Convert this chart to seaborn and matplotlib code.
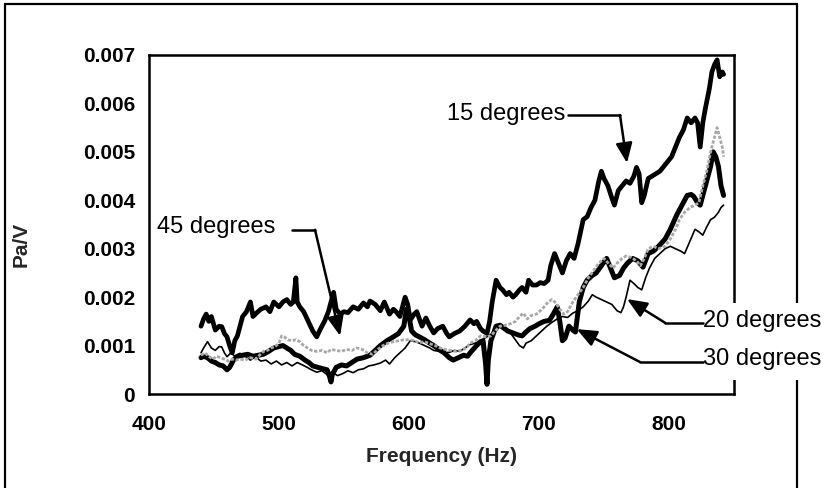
import matplotlib
matplotlib.use("Agg")
import matplotlib.pyplot as plt
from matplotlib.lines import Line2D
from matplotlib.patches import Rectangle
import seaborn as sns
import pandas as pd

# ---------------- data ----------------
f15 = [440,442,444,446,448,451,454,456,458,460,462,464,466,468,470,472,475,478,480,483,486,490,493,496,500,503,506,509,511,513,514,516,519,522,526,529,532,535,538,540,542,544,547,550,553,557,561,565,568,570,574,578,581,585,588,590,593,597,599,601,604,606,610,613,616,619,622,626,629,631,635,639,643,647,650,652,655,657,660,662,664,667,670,672,675,677,680,682,685,687,690,692,695,698,701,704,707,709,712,715,718,721,724,727,730,734,737,740,743,746,748,750,753,756,758,761,764,767,770,773,775,777,779,781,784,787,790,793,796,799,802,805,808,811,814,817,820,822,824,826,828,831,833,835,837,839,841,842]
v15 = [0.00140,0.00155,0.00165,0.00150,0.00160,0.00132,0.00140,0.00139,0.00125,0.00118,0.00100,0.00085,0.00110,0.00120,0.00140,0.00160,0.00170,0.00190,0.00160,0.00168,0.00175,0.00180,0.00170,0.00190,0.00180,0.00190,0.00195,0.00185,0.00190,0.00240,0.00190,0.00180,0.00170,0.00153,0.00130,0.00118,0.00135,0.00150,0.00170,0.00190,0.00210,0.00175,0.00165,0.00170,0.00168,0.00180,0.00175,0.00188,0.00180,0.00192,0.00185,0.00172,0.00190,0.00165,0.00175,0.00170,0.00160,0.00200,0.00185,0.00153,0.00165,0.00170,0.00140,0.00157,0.00140,0.00126,0.00135,0.00140,0.00125,0.00118,0.00125,0.00130,0.00140,0.00153,0.00145,0.00150,0.00135,0.00130,0.00125,0.00150,0.00190,0.00235,0.00220,0.00215,0.00205,0.00210,0.00200,0.00205,0.00215,0.00220,0.00210,0.00235,0.00225,0.00225,0.00230,0.00228,0.00235,0.00265,0.00290,0.00270,0.00250,0.00275,0.00290,0.00280,0.00310,0.00360,0.00366,0.00385,0.00400,0.00440,0.00460,0.00445,0.00430,0.00405,0.00390,0.00420,0.00430,0.00440,0.00435,0.00450,0.00468,0.00455,0.00395,0.00410,0.00445,0.00450,0.00455,0.00460,0.00470,0.00480,0.00490,0.00510,0.00530,0.00545,0.00570,0.00560,0.00570,0.00560,0.00510,0.00560,0.00590,0.00630,0.00665,0.00680,0.00690,0.00655,0.00665,0.00660]

f30 = [440,442,445,448,451,454,457,460,462,465,468,472,476,480,484,488,492,496,500,503,506,509,512,516,520,523,526,530,534,537,539,540,541,544,548,552,556,560,565,570,574,578,583,588,592,596,598,600,602,605,608,612,616,619,623,627,631,634,638,642,645,648,652,655,657,659,660,661,663,665,667,670,672,676,680,684,687,690,693,697,700,704,708,711,714,716,718,720,723,726,728,731,734,737,741,744,748,752,755,758,762,765,768,772,776,780,784,788,792,797,801,806,810,814,817,819,822,824,827,829,832,834,836,838,840,842]
v30 = [0.00075,0.00078,0.00075,0.00068,0.00065,0.00060,0.00058,0.00050,0.00055,0.00070,0.00078,0.00080,0.00082,0.00078,0.00080,0.00082,0.00088,0.00095,0.00098,0.00100,0.00095,0.00090,0.00082,0.00078,0.00070,0.00065,0.00058,0.00055,0.00052,0.00050,0.00035,0.00025,0.00040,0.00055,0.00060,0.00058,0.00065,0.00072,0.00075,0.00080,0.00090,0.00100,0.00110,0.00118,0.00125,0.00140,0.00175,0.00160,0.00130,0.00122,0.00118,0.00112,0.00105,0.00100,0.00092,0.00085,0.00075,0.00070,0.00075,0.00080,0.00078,0.00088,0.00100,0.00108,0.00110,0.00060,0.00020,0.00070,0.00110,0.00125,0.00140,0.00142,0.00138,0.00130,0.00126,0.00122,0.00120,0.00128,0.00135,0.00140,0.00145,0.00150,0.00152,0.00165,0.00180,0.00150,0.00110,0.00115,0.00140,0.00132,0.00128,0.00190,0.00220,0.00235,0.00245,0.00250,0.00265,0.00280,0.00260,0.00240,0.00245,0.00260,0.00270,0.00280,0.00275,0.00262,0.00290,0.00295,0.00305,0.00320,0.00340,0.00370,0.00390,0.00410,0.00412,0.00408,0.00395,0.00390,0.00420,0.00440,0.00470,0.00500,0.00490,0.00470,0.00430,0.00410]

f20 = [440,442,445,448,451,454,456,458,460,463,466,470,474,478,482,486,490,494,498,502,506,510,514,518,521,525,529,533,537,541,545,549,553,557,561,565,569,573,578,582,585,589,593,597,601,605,608,612,616,619,623,627,631,635,639,643,647,651,655,660,664,667,670,674,677,681,685,688,690,694,698,702,706,710,714,718,722,726,730,734,738,741,744,748,752,756,760,763,765,767,770,773,776,779,782,785,789,793,797,801,805,809,812,816,820,823,826,829,832,835,838,840,842]
v20 = [0.00085,0.00095,0.00108,0.00095,0.00090,0.00098,0.00097,0.00085,0.00077,0.00085,0.00078,0.00084,0.00078,0.00070,0.00077,0.00068,0.00070,0.00062,0.00068,0.00060,0.00065,0.00058,0.00065,0.00060,0.00056,0.00050,0.00045,0.00048,0.00040,0.00045,0.00038,0.00042,0.00048,0.00044,0.00050,0.00052,0.00058,0.00060,0.00064,0.00070,0.00062,0.00075,0.00085,0.00095,0.00110,0.00108,0.00105,0.00100,0.00095,0.00090,0.00088,0.00085,0.00086,0.00090,0.00088,0.00095,0.00102,0.00105,0.00110,0.00118,0.00125,0.00130,0.00140,0.00135,0.00130,0.00115,0.00100,0.00095,0.00105,0.00110,0.00120,0.00130,0.00140,0.00148,0.00155,0.00160,0.00158,0.00167,0.00172,0.00180,0.00192,0.00205,0.00200,0.00195,0.00190,0.00185,0.00172,0.00168,0.00180,0.00200,0.00235,0.00228,0.00220,0.00215,0.00240,0.00260,0.00280,0.00290,0.00300,0.00305,0.00300,0.00295,0.00290,0.00315,0.00340,0.00335,0.00328,0.00345,0.00360,0.00365,0.00375,0.00385,0.00390]

f45 = [440,443,446,449,452,455,458,461,464,467,470,474,478,482,485,488,491,494,497,500,502,504,507,510,513,516,519,522,525,529,533,537,540,544,548,552,556,560,564,568,572,576,580,584,588,592,596,600,604,608,612,616,620,624,628,632,636,640,644,647,651,655,659,663,667,670,674,678,682,685,688,691,694,698,701,704,707,710,713,716,719,722,726,730,734,738,742,746,750,754,757,760,764,767,771,775,778,781,784,788,792,797,801,805,808,812,816,820,823,826,829,832,835,837,839,841,842]
v45 = [0.00080,0.00085,0.00078,0.00072,0.00078,0.00075,0.00072,0.00068,0.00072,0.00070,0.00072,0.00070,0.00075,0.00072,0.00080,0.00088,0.00090,0.00095,0.00098,0.00105,0.00120,0.00118,0.00112,0.00110,0.00112,0.00108,0.00100,0.00095,0.00090,0.00088,0.00090,0.00085,0.00092,0.00090,0.00088,0.00092,0.00090,0.00095,0.00092,0.00085,0.00082,0.00092,0.00100,0.00105,0.00108,0.00110,0.00112,0.00112,0.00110,0.00106,0.00108,0.00104,0.00100,0.00095,0.00092,0.00090,0.00088,0.00090,0.00095,0.00105,0.00110,0.00120,0.00118,0.00120,0.00132,0.00140,0.00142,0.00145,0.00150,0.00160,0.00167,0.00155,0.00162,0.00165,0.00172,0.00180,0.00190,0.00195,0.00188,0.00175,0.00165,0.00170,0.00190,0.00205,0.00220,0.00240,0.00255,0.00270,0.00280,0.00268,0.00260,0.00270,0.00280,0.00285,0.00282,0.00275,0.00265,0.00280,0.00300,0.00305,0.00300,0.00305,0.00320,0.00340,0.00360,0.00375,0.00385,0.00390,0.00395,0.00430,0.00460,0.00500,0.00530,0.00550,0.00530,0.00510,0.00490]

labels = ["15 degrees", "20 degrees", "30 degrees", "45 degrees"]
x_ticks = [400, 500, 600, 700, 800]
y_ticks = [0, 0.001, 0.002, 0.003, 0.004, 0.005, 0.006, 0.007]
y_tick_labels = ["0", "0.001", "0.002", "0.003", "0.004", "0.005", "0.006", "0.007"]

# ---------------- style ----------------
sns.set_style("white")
plt.rcParams["font.family"] = ["Liberation Sans", "DejaVu Sans"]

W, H = 829, 488
fig = plt.figure(figsize=(W / 100, H / 100), dpi=100)
fig.patch.set_facecolor("white")
ax = fig.add_axes([149 / W, 1 - 394 / H, 585 / W, 339 / H])

def frame(f, v, name):
    return pd.DataFrame({"Frequency": f, "PaV": v, "Angle": name})

d15 = frame(f15, v15, labels[0])
d20 = frame(f20, v20, labels[1])
d30 = frame(f30, v30, labels[2])
d45 = frame(f45, v45, labels[3])

sns.lineplot(data=d20, x="Frequency", y="PaV", ax=ax, color="black", lw=1.2,
             estimator=None, sort=False, zorder=3)
sns.lineplot(data=d30, x="Frequency", y="PaV", ax=ax, color="black", lw=3.6,
             estimator=None, sort=False, zorder=3)
sns.lineplot(data=d15, x="Frequency", y="PaV", ax=ax, color="black", lw=3.4,
             estimator=None, sort=False, zorder=3)
sns.lineplot(data=d45, x="Frequency", y="PaV", ax=ax, color="#a8a8a8", lw=2.0,
             estimator=None, sort=False, zorder=4, linestyle=(0, (1.2, 0.6)))

ax.set_xlim(400, 850)
ax.set_ylim(0, 0.007)
ax.set_xticks(x_ticks)
ax.set_xticklabels([str(t) for t in x_ticks])
ax.set_yticks(y_ticks)
ax.set_yticklabels(y_tick_labels)
for s in ax.spines.values():
    s.set_visible(True)
    s.set_color("black")
    s.set_linewidth(1.8)
ax.tick_params(axis="both", direction="inout", length=6, width=1.2, color="black",
               labelsize=15, labelcolor="black")
ax.tick_params(axis="y", pad=7)
ax.tick_params(axis="x", pad=12)
for lab in ax.get_xticklabels() + ax.get_yticklabels():
    lab.set_fontweight("bold")
ax.set_xlabel("Frequency (Hz)", fontsize=15, fontweight="bold")
ax.set_ylabel("Pa/V", fontsize=15, fontweight="bold")
ax.xaxis.set_label_coords(0.5, -0.155)
ax.yaxis.set_label_coords(-0.203, 0.44)
ax.grid(False)

# ---------------- annotations ----------------
alw = 1.8
def arrow(tip, start):
    ax.annotate("", xy=tip, xytext=start, annotation_clip=False, zorder=8,
                arrowprops=dict(arrowstyle="-|>,head_length=0.6,head_width=0.25",
                                mutation_scale=20, lw=alw, color="black",
                                shrinkA=0, shrinkB=0))

tfont = dict(fontsize=17, color="black", zorder=8)

# 15 degrees
ax.text(720.5, 0.00578, labels[0], ha="right", va="center", **tfont)
ax.plot([722, 762.3], [0.00576, 0.00576], color="black", lw=alw, zorder=8)
arrow((767.7, 0.00477), (762.3, 0.00576))

# 45 degrees
ax.text(497.5, 0.00345, labels[3], ha="right", va="center", **tfont)
ax.plot([510, 527.7], [0.00339, 0.00339], color="black", lw=alw, zorder=8)
arrow((547, 0.00120), (527.7, 0.00339))

# outer frame of the figure (drawn inside the axes so the labels can sit on top)
for xs, ys in [([5 / W, 5 / W], [0, 1 - 4 / H]),
               ([5 / W, 797 / W], [1 - 4 / H, 1 - 4 / H]),
               ([797 / W, 797 / W], [0, 1 - 4 / H])]:
    ax.add_line(Line2D(xs, ys, transform=fig.transFigure, color="black", lw=1.6,
                       zorder=5, clip_on=False))

# white patch that breaks the frames behind the right-hand labels
ax.add_patch(Rectangle((727 / W, 1 - 380 / H), 80 / W, 77 / H,
                       transform=fig.transFigure, facecolor="white",
                       edgecolor="none", zorder=6, clip_on=False))

# 20 degrees
ax.text(826, 0.00150, labels[1], ha="left", va="center", clip_on=False, **tfont)
ax.plot([797, 826], [0.00147, 0.00147], color="black", lw=alw, zorder=8, clip_on=False)
arrow((767.7, 0.00196), (797, 0.00147))

# 30 degrees
ax.text(826, 0.00073, labels[2], ha="left", va="center", clip_on=False, **tfont)
ax.plot([777.7, 826], [0.00066, 0.00066], color="black", lw=alw, zorder=8, clip_on=False)
arrow((729, 0.00134), (777.7, 0.00066))

fig.savefig("out.png", dpi=100, facecolor="white")
